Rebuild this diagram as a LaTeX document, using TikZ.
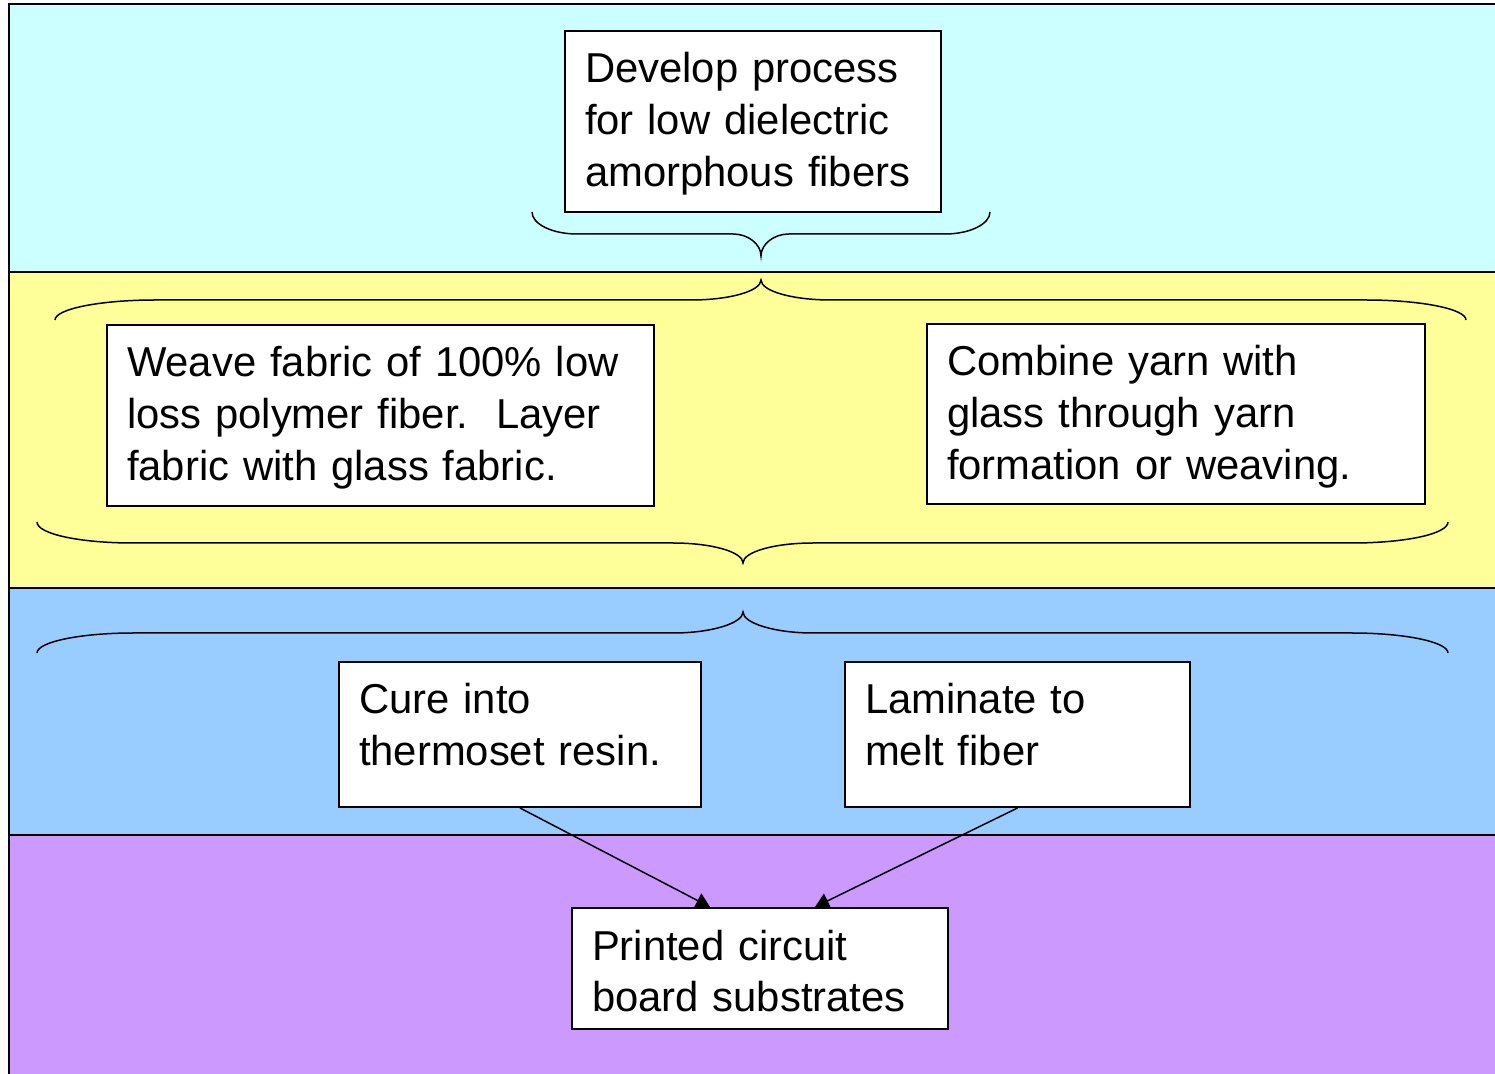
\documentclass[tikz,border=0pt]{standalone}
\usepackage{fontspec}
\setmainfont{Liberation Sans}
\usetikzlibrary{arrows.meta}
\definecolor{bandA}{HTML}{CCFFFF}
\definecolor{bandB}{HTML}{FFFF99}
\definecolor{bandC}{HTML}{99CCFF}
\definecolor{bandD}{HTML}{CC99FF}
\begin{document}
\begin{tikzpicture}[x=0.5pt,y=-0.5pt,
  band/.style={draw=black,line width=1pt},
  stepbox/.style={draw=black,fill=white,line width=1pt,anchor=north west,align=left,
    inner xsep=10pt,inner ysep=0pt,text height=26pt,
    font=\fontsize{20.9pt}{25.9pt}\selectfont},
  brace/.style={draw=black,line width=0.75pt},
  arr/.style={draw=black,line width=0.75pt,-{Triangle[width=8pt,length=7pt]}}]
\useasboundingbox (0,0) rectangle (1495,1074);
\clip (0,0) rectangle (1495,1074);
% bands
\draw[band,fill=bandA] (9,4) rectangle (1520,272);
\draw[band,fill=bandB] (9,272) rectangle (1520,588);
\draw[band,fill=bandC] (9,588) rectangle (1520,835);
\draw[band,fill=bandD] (9,835) rectangle (1520,1100);
% boxes
\node[stepbox,text width=168pt,text depth=64.5pt] (dev) at (564,30)
  {\mbox{Develop process}\\\mbox{for low dielectric}\\\mbox{amorphous fibers}};
\node[stepbox,text width=253.5pt,text depth=64.5pt] (weave) at (106,324)
  {\mbox{Weave fabric of 100\% low}\\\mbox{loss polymer fiber.\ \ Layer}\\\mbox{fabric with glass fabric.}};
\node[stepbox,text width=229pt,text depth=64pt] (comb) at (926,323)
  {\mbox{Combine yarn with}\\\mbox{glass through yarn}\\\mbox{formation or weaving.}};
\node[stepbox,text width=161pt,text depth=46.5pt] (cure) at (338,661)
  {\mbox{Cure into}\\\mbox{thermoset resin.}};
\node[stepbox,text width=152.5pt,text depth=46.5pt] (lam) at (844,661)
  {\mbox{Laminate to}\\\mbox{melt fiber}};
\node[stepbox,text width=168pt,text depth=34.5pt] (pcb) at (571,907)
  {\mbox{Printed circuit}\\\mbox{board substrates}};
% braces
\draw[brace] (532,212) .. controls (532,224) and (552,234) .. (577,234) -- (733,234)
  .. controls (748,234) and (761,244) .. (761,256)
  .. controls (761,244) and (774,234) .. (789,234) -- (945,234)
  .. controls (970,234) and (990,224) .. (990,212);
\draw[brace] (55,320) .. controls (55,309) and (100,300) .. (155,300) -- (691,300)
  .. controls (730,300) and (761,291) .. (761,280)
  .. controls (761,291) and (792,300) .. (831,300) -- (1366,300)
  .. controls (1421,300) and (1466,309) .. (1466,320);
\draw[brace] (37,522) .. controls (37,534) and (80,543) .. (133,543) -- (673,543)
  .. controls (712,543) and (743,552) .. (743,563)
  .. controls (743,552) and (774,543) .. (813,543) -- (1352,543)
  .. controls (1405,543) and (1448,534) .. (1448,522);
\draw[brace] (37,653) .. controls (37,642) and (80,633) .. (133,633) -- (673,633)
  .. controls (712,633) and (743,623) .. (743,612)
  .. controls (743,623) and (774,633) .. (813,633) -- (1352,633)
  .. controls (1405,633) and (1448,642) .. (1448,653);
% arrows
\coordinate (pin1) at (710,907);
\coordinate (pin2) at (815,907);
\draw[arr] (cure.south) -- (pin1);
\draw[arr] (lam.south) -- (pin2);
\end{tikzpicture}
\end{document}
